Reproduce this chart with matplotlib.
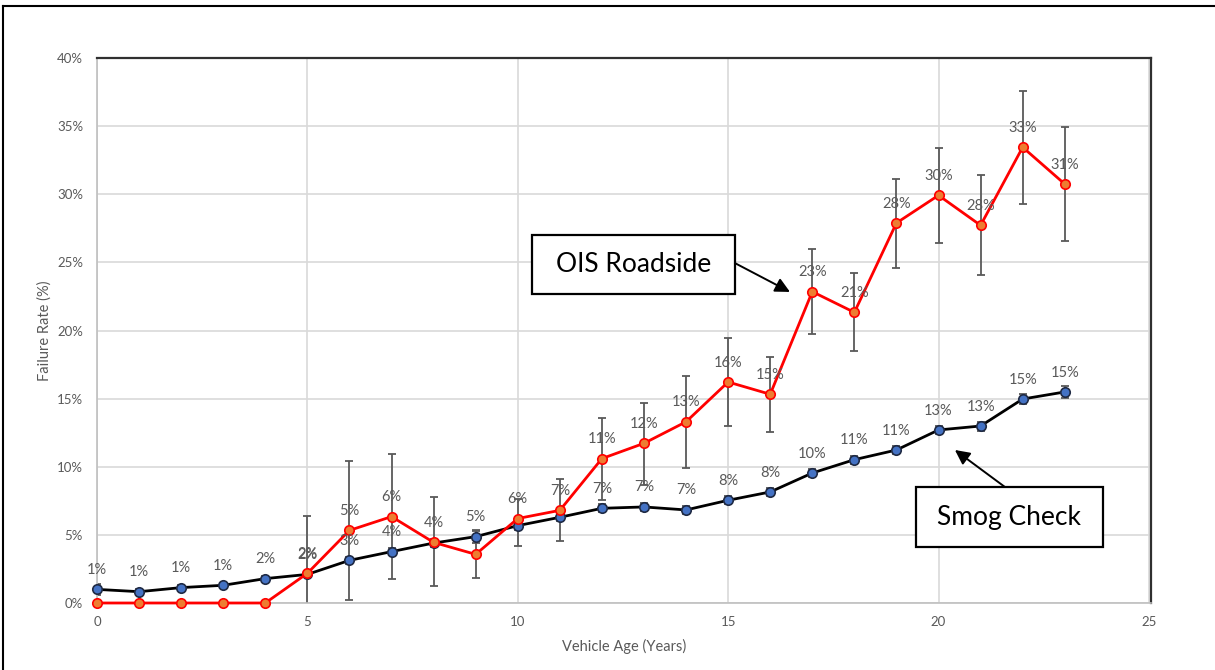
import matplotlib
matplotlib.use("Agg")
import matplotlib.pyplot as plt
from matplotlib.lines import Line2D
from matplotlib.patches import Rectangle
from matplotlib.ticker import FuncFormatter, MultipleLocator

plt.rcParams['font.family'] = ['Lato', 'DejaVu Sans']

# ---------------- data ----------------
ages = list(range(24))

ois_rate = [0, 0, 0, 0, 0, 2.18, 5.33, 6.34, 4.45, 3.57, 6.2, 6.8, 10.6, 11.72,
            13.3, 16.22, 15.32, 22.85, 21.33, 27.89, 29.92, 27.72, 33.45, 30.75]
ois_err_low = [0, 0, 0, 0, 0, 4.2, 5.1, 4.55, 3.2, 1.77, 2.05, 2.25, 3.04, 3.06,
               3.42, 3.22, 2.75, 3.11, 2.83, 3.3, 3.48, 3.62, 4.14, 4.15]
ois_err_high = [0, 0, 0, 0, 0, 4.2, 5.12, 4.6, 3.3, 1.77, 1.4, 2.3, 2.98, 2.98,
                3.36, 3.25, 2.73, 3.13, 2.91, 3.25, 3.45, 3.67, 4.15, 4.16]
ois_labels = ['', '', '', '', '', '2%', '5%', '6%', '4%', '', '6%', '7%', '11%', '12%',
              '13%', '16%', '15%', '23%', '21%', '28%', '30%', '28%', '33%', '31%']

smog_rate = [1.0, 0.83, 1.13, 1.3, 1.79, 2.1, 3.13, 3.77, 4.4, 4.87, 5.68, 6.29, 6.95,
             7.05, 6.83, 7.54, 8.15, 9.54, 10.52, 11.23, 12.7, 12.99, 14.97, 15.49]
smog_err = [0.4, 0.2, 0.2, 0.2, 0.2, 0.2, 0.25, 0.25, 0.3, 0.44, 0.3, 0.3, 0.3, 0.3,
            0.3, 0.3, 0.3, 0.3, 0.3, 0.3, 0.3, 0.33, 0.4, 0.43]
smog_labels = ['1%', '1%', '1%', '1%', '2%', '2%', '3%', '4%', '', '5%', '', '', '7%', '7%',
               '7%', '8%', '8%', '10%', '11%', '11%', '13%', '13%', '15%', '15%']

x_label = "Vehicle Age (Years)"
y_label = "Failure Rate (%)"
ois_name = "OIS Roadside"
smog_name = "Smog Check"

# ---------------- figure ----------------
W, H = 1215, 670
fig = plt.figure(figsize=(W / 100, H / 100), dpi=100)
ax = fig.add_axes([97 / W, 1 - 603 / H, (1151 - 97) / W, (603 - 58) / H])

grid_c = '#d9d9d9'
text_c = '#595959'
err_c = '#595959'

ax.set_xlim(0, 25.05)
ax.set_ylim(0, 40)
ax.xaxis.set_major_locator(MultipleLocator(5))
ax.yaxis.set_major_locator(MultipleLocator(5))
ax.yaxis.set_major_formatter(FuncFormatter(lambda v, p: f"{v:.0f}%"))
ax.grid(True, color=grid_c, lw=1.2, zorder=0)
ax.set_axisbelow(True)
ax.tick_params(length=0, labelsize=9.5, labelcolor=text_c)
ax.tick_params(axis='y', pad=10)
ax.tick_params(axis='x', pad=9)
for s in ['left', 'bottom']:
    ax.spines[s].set_color('#bfbfbf')
    ax.spines[s].set_linewidth(1.2)
for s in ['top', 'right']:
    ax.spines[s].set_color('#303030')
    ax.spines[s].set_linewidth(1.6)

ax.set_xlabel(x_label, fontsize=10.5, color=text_c, labelpad=8)
ax.set_ylabel(y_label, fontsize=10.5, color=text_c, labelpad=4)

# error bars
ax.errorbar(ages, smog_rate, yerr=smog_err, fmt='none', ecolor=err_c,
            elinewidth=1.3, capsize=3, capthick=1.3, zorder=2)
ois_x = [a for a, lo, hi in zip(ages, ois_err_low, ois_err_high) if lo + hi > 0]
ois_y = [v for v, lo, hi in zip(ois_rate, ois_err_low, ois_err_high) if lo + hi > 0]
ois_lo = [lo for lo, hi in zip(ois_err_low, ois_err_high) if lo + hi > 0]
ois_hi = [hi for lo, hi in zip(ois_err_low, ois_err_high) if lo + hi > 0]
ax.errorbar(ois_x, ois_y, yerr=[ois_lo, ois_hi], fmt='none', ecolor=err_c,
            elinewidth=1.3, capsize=3, capthick=1.3, zorder=2)

# lines
ax.plot(ages, smog_rate, color='black', lw=2, marker='o', ms=6.8,
        mfc='#4472c4', mec='#1f2a44', mew=1.2, zorder=4, clip_on=False)
ax.plot(ages, ois_rate, color='#ff0000', lw=2, marker='o', ms=6.8,
        mfc='#ed7d31', mec='#ff0000', mew=1.2, zorder=5, clip_on=False)

# data labels
for xv, yv, lab in zip(ages, smog_rate, smog_labels):
    if lab:
        ax.annotate(lab, (xv, yv), xytext=(0, 14), textcoords='offset points',
                    ha='center', va='center', fontsize=10.5, color=text_c, zorder=6)
for xv, yv, lab in zip(ages, ois_rate, ois_labels):
    if lab:
        ax.annotate(lab, (xv, yv), xytext=(0, 14), textcoords='offset points',
                    ha='center', va='center', fontsize=10.5, color=text_c, zorder=6)

# callout boxes
ois_box = (10.34, 22.68, 4.82, 4.33)
smog_box = (19.46, 4.11, 4.45, 4.40)
for (bx, by, bw, bh), name in [(ois_box, ois_name), (smog_box, smog_name)]:
    ax.add_patch(Rectangle((bx, by), bw, bh, facecolor='white', edgecolor='black',
                           lw=1.6, zorder=7))
    ax.text(bx + bw / 2, by + bh / 2, name, ha='center', va='center',
            fontsize=19, color='black', zorder=8)

ax.annotate('', xy=(16.47, 22.83), xytext=(15.16, 24.95),
            arrowprops=dict(arrowstyle='-|>', color='black', lw=1.4,
                            mutation_scale=22, shrinkA=0, shrinkB=0), zorder=8)
ax.annotate('', xy=(20.39, 11.23), xytext=(21.58, 8.51),
            arrowprops=dict(arrowstyle='-|>', color='black', lw=1.4,
                            mutation_scale=22, shrinkA=0, shrinkB=0), zorder=8)

# outer frame
fig.add_artist(Line2D([3 / W, 3 / W], [0, 1 - 6 / H], transform=fig.transFigure,
                      color='black', lw=1.5))
fig.add_artist(Line2D([3 / W, 1], [1 - 6 / H, 1 - 6 / H], transform=fig.transFigure,
                      color='black', lw=1.5))

fig.savefig("out.png", dpi=100)
